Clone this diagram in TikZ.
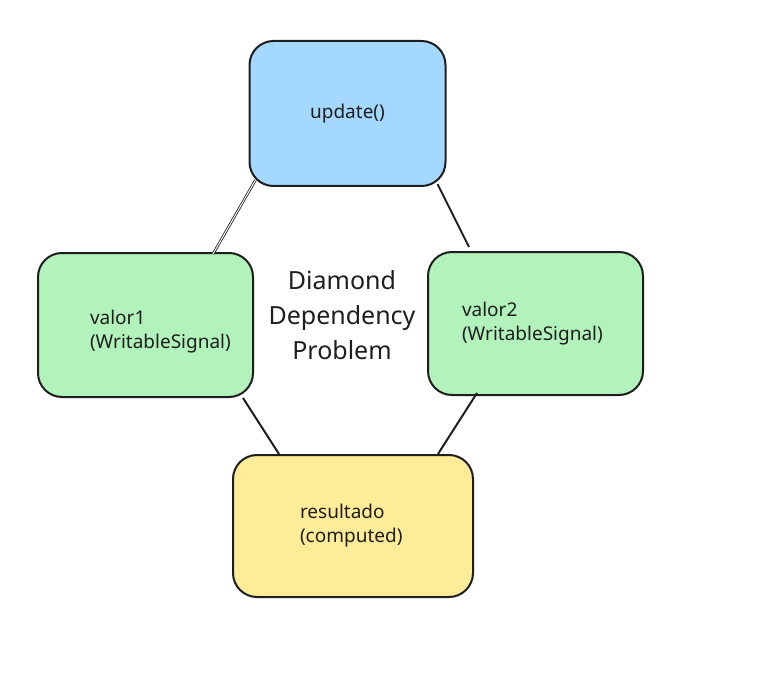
\documentclass[tikz,border=0pt]{standalone}
\usepackage{fontspec}
\setmainfont{Noto Sans}
\usetikzlibrary{calc}
\definecolor{ink}{HTML}{1E1E1E}
\definecolor{bluef}{HTML}{A5D8FF}
\definecolor{greenf}{HTML}{B2F2BB}
\definecolor{yellowf}{HTML}{FFEC99}
\tikzset{
  box/.style={draw=ink, line width=2pt, rounded corners=24pt, inner sep=0pt,
    font=\fontsize{19}{24}\selectfont, text=ink, align=left},
  conn/.style={draw=ink, line width=2pt},
  dconn/.style={draw=ink, line width=0.8pt, double=white, double distance=1pt},
  title/.style={font=\fontsize{25}{35}\selectfont, text=ink, align=center}
}
\begin{document}
\begin{tikzpicture}[x=1pt,y=-1pt]
\useasboundingbox (0,0) rectangle (761,682);
\node[box, fill=bluef, minimum width=196pt, minimum height=145pt, align=center] (update) at (347.5,113.5) {update()};
\node[box, fill=greenf, minimum width=215pt, minimum height=144pt, text width=215pt] (v1) at (145.5,325) {\hspace*{52pt}\rule{0pt}{28pt}valor1\\\hspace*{52pt}(WritableSignal)};
\node[box, fill=greenf, minimum width=215pt, minimum height=143pt, text width=215pt] (v2) at (535.5,323.5) {\hspace*{34pt}valor2\\\hspace*{34pt}(WritableSignal)};
\node[box, fill=yellowf, minimum width=240pt, minimum height=142pt, text width=240pt] (res) at (353,526) {\hspace*{67pt}resultado\\\hspace*{67pt}(computed)};
\node[title] (ttl) at (342,315) {Diamond\\Dependency\\Problem};
\draw[dconn] ($(update.south west)+(7,-7)$) -- ($(v1.north east)+(-41,2)$);
\draw[conn] ($(update.south east)+(-9,-3)$) -- ($(v2.north west)+(42,-4)$);
\draw[conn] ($(v1.south east)+(-11,0)$) -- ($(res.north west)+(47,0)$);
\draw[conn] ($(v2.south west)+(50,-3)$) -- ($(res.north east)+(-36,0)$);
\end{tikzpicture}
\end{document}
